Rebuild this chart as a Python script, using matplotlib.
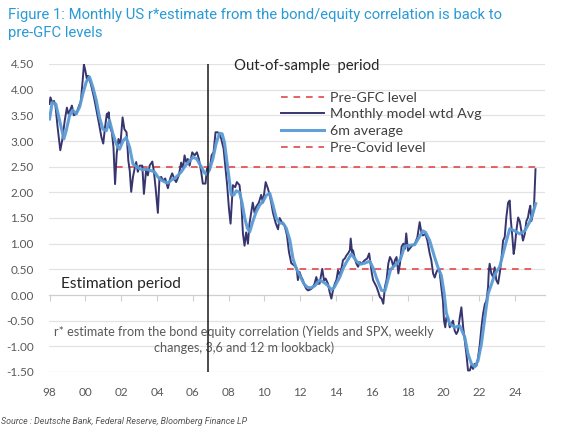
import matplotlib
matplotlib.use("Agg")
import matplotlib.pyplot as plt
import numpy as np

# ---------------- data ----------------
monthly_x = [1998.0, 1998.05, 1998.15, 1998.25, 1998.33, 1998.45, 1998.6, 1998.7, 1998.85, 1998.97,
             1999.05, 1999.15, 1999.25, 1999.35, 1999.5, 1999.58, 1999.75, 1999.85, 1999.92, 2000.0,
             2000.1, 2000.15, 2000.25, 2000.35, 2000.5, 2000.62, 2000.75, 2000.9, 2001.0, 2001.1,
             2001.2, 2001.25, 2001.3, 2001.38, 2001.48, 2001.57, 2001.66, 2001.75, 2001.85, 2001.96,
             2002.08, 2002.18, 2002.3, 2002.4, 2002.48, 2002.56, 2002.66, 2002.75, 2002.84, 2002.93,
             2003.03, 2003.18, 2003.27, 2003.4, 2003.49, 2003.59, 2003.74, 2003.83, 2003.92, 2004.05,
             2004.14, 2004.24, 2004.33, 2004.46, 2004.61, 2004.74, 2004.85, 2004.98, 2005.07, 2005.22,
             2005.35, 2005.45, 2005.54, 2005.63, 2005.72, 2005.82, 2005.97, 2006.1, 2006.23, 2006.34,
             2006.47, 2006.56, 2006.71, 2006.79, 2006.94, 2007.05, 2007.16, 2007.27, 2007.4, 2007.49,
             2007.59, 2007.72, 2007.83, 2007.92, 2008.02, 2008.11, 2008.18, 2008.24, 2008.37, 2008.46,
             2008.61, 2008.71, 2008.8, 2008.89, 2008.98, 2009.08, 2009.17, 2009.35, 2009.45, 2009.54,
             2009.69, 2009.82, 2009.92, 2010.07, 2010.2, 2010.29, 2010.38, 2010.48, 2010.63, 2010.76,
             2010.85, 2011.0, 2011.13, 2011.26, 2011.37, 2011.5, 2011.65, 2011.8, 2011.87, 2011.96,
             2012.06, 2012.15, 2012.24, 2012.34, 2012.43, 2012.52, 2012.62, 2012.71, 2012.8, 2012.9,
             2012.99, 2013.08, 2013.23, 2013.33, 2013.42, 2013.55, 2013.64, 2013.74, 2013.83, 2013.93,
             2014.02, 2014.11, 2014.21, 2014.3, 2014.39, 2014.49, 2014.58, 2014.67, 2014.77, 2014.82,
             2014.9, 2014.95, 2015.05, 2015.14, 2015.23, 2015.33, 2015.42, 2015.61, 2015.74, 2015.85,
             2015.93, 2016.0, 2016.07, 2016.17, 2016.26, 2016.36, 2016.45, 2016.54, 2016.64, 2016.73,
             2016.82, 2016.92, 2017.01, 2017.1, 2017.2, 2017.29, 2017.38, 2017.48, 2017.57, 2017.66,
             2017.76, 2017.85, 2017.92, 2018.02, 2018.11, 2018.24, 2018.39, 2018.54, 2018.67, 2018.76,
             2018.85, 2018.99, 2019.1, 2019.23, 2019.32, 2019.42, 2019.51, 2019.6, 2019.69, 2019.78,
             2019.88, 2019.97, 2020.03, 2020.1, 2020.16, 2020.25, 2020.35, 2020.44, 2020.53, 2020.63,
             2020.72, 2020.81, 2020.91, 2021.0, 2021.1, 2021.19, 2021.28, 2021.37, 2021.47, 2021.56,
             2021.65, 2021.75, 2021.84, 2021.93, 2022.03, 2022.12, 2022.21, 2022.31, 2022.4, 2022.49,
             2022.53, 2022.58, 2022.67, 2022.77, 2022.86, 2022.95, 2023.05, 2023.14, 2023.23, 2023.33,
             2023.42, 2023.51, 2023.61, 2023.7, 2023.75, 2023.85, 2023.92, 2023.98, 2024.07, 2024.17,
             2024.26, 2024.35, 2024.44, 2024.54, 2024.63, 2024.72, 2024.78, 2024.85, 2024.91, 2024.99,
             2025.05, 2025.14]
monthly_val = [3.72, 3.85, 3.75, 3.78, 3.69, 3.27, 2.82, 3.0, 3.4, 3.65,
               3.53, 3.6, 3.69, 3.5, 3.53, 3.62, 3.78, 4.18, 4.49, 4.37,
               4.18, 4.27, 4.18, 4.05, 3.82, 3.6, 3.36, 3.07, 2.95, 3.27,
               3.53, 3.46, 3.56, 3.27, 3.17, 2.88, 2.16, 2.75, 3.04, 2.94,
               3.46, 3.23, 3.17, 2.62, 2.42, 2.01, 2.3, 2.46, 2.59, 2.4,
               2.52, 2.52, 1.97, 2.46, 2.33, 2.52, 2.6, 2.4, 2.1, 1.6,
               2.28, 2.3, 2.23, 2.27, 2.08, 2.27, 2.37, 2.25, 2.2, 2.33,
               2.58, 2.46, 2.72, 2.59, 2.65, 2.52, 2.78, 2.72, 2.78, 2.65,
               2.4, 2.17, 2.17, 2.46, 2.43, 2.72, 2.78, 3.17, 3.17, 3.13,
               3.04, 2.85, 2.46, 2.14, 1.68, 1.39, 1.8, 2.14, 2.1, 2.2,
               2.14, 1.8, 1.2, 0.96, 1.22, 1.0, 1.4, 1.8, 1.6, 1.72,
               1.8, 1.95, 1.8, 2.2, 2.07, 1.95, 1.8, 1.6, 1.4, 1.28,
               1.5, 1.4, 1.35, 1.16, 0.84, 0.62, 0.58, 0.52, 0.29, 0.45,
               0.35, 0.29, 0.19, 0.12, 0.09, 0.1, 0.12, 0.15, 0.22, 0.35,
               0.22, 0.22, 0.51, 0.28, 0.32, 0.22, 0.06, -0.07, 0.09, 0.22,
               0.29, 0.48, 0.38, 0.51, 0.68, 0.71, 0.77, 0.81, 0.87, 1.1,
               0.81, 0.87, 0.71, 0.61, 0.55, 0.64, 0.61, 0.68, 0.71, 0.81,
               0.61, 0.42, 0.29, 0.22, 0.16, 0.06, -0.04, -0.07, -0.17, 0.16,
               0.29, 0.61, 0.74, 0.68, 0.55, 0.68, 0.74, 0.42, 0.61, 0.94,
               1.0, 0.9, 1.2, 0.86, 0.9, 0.96, 0.99, 1.12, 1.42, 1.23,
               1.16, 1.19, 1.06, 0.81, 0.68, 0.42, 0.34, 0.44, 0.5, 0.47,
               0.15, -0.11, -0.5, -0.63, -0.44, -0.44, -0.63, -0.57, -0.5, -0.7,
               -0.76, -0.7, -0.44, -0.24, -0.63, -0.89, -1.15, -1.47, -1.47, -1.37,
               -1.44, -1.34, -1.38, -1.22, -0.96, -0.63, -0.37, -0.18, -0.11, 0.15,
               0.46, 0.61, 0.42, 0.35, 0.54, 0.29, 0.22, 0.42, 0.68, 1.06,
               1.13, 1.51, 1.8, 1.84, 1.51, 1.12, 0.8, 0.93, 1.25, 1.51,
               1.44, 1.25, 1.06, 1.19, 1.44, 1.51, 1.64, 1.74, 1.44, 1.57,
               1.67, 2.45]

avg6m_x = [1998.0, 1998.15, 1998.35, 1998.65, 1998.8, 1998.93, 1999.12, 1999.3, 1999.49, 1999.68,
           1999.86, 2000.05, 2000.23, 2000.42, 2000.61, 2000.79, 2000.98, 2001.17, 2001.35, 2001.54,
           2001.73, 2001.91, 2002.1, 2002.28, 2002.47, 2002.66, 2002.85, 2003.03, 2003.2, 2003.4,
           2003.6, 2003.86, 2004.05, 2004.24, 2004.45, 2004.61, 2004.8, 2004.98, 2005.17, 2005.36,
           2005.55, 2005.73, 2006.0, 2006.2, 2006.47, 2006.65, 2006.8, 2006.94, 2007.12, 2007.3,
           2007.49, 2007.64, 2007.77, 2007.96, 2008.15, 2008.3, 2008.43, 2008.61, 2008.75, 2008.9,
           2009.05, 2009.18, 2009.35, 2009.54, 2009.73, 2009.92, 2010.1, 2010.3, 2010.48, 2010.66,
           2010.86, 2011.04, 2011.22, 2011.42, 2011.6, 2011.8, 2011.98, 2012.2, 2012.4, 2012.6,
           2012.82, 2013.08, 2013.3, 2013.5, 2013.75, 2013.9, 2014.21, 2014.4, 2014.58, 2014.86,
           2015.14, 2015.35, 2015.6, 2015.89, 2016.1, 2016.26, 2016.54, 2016.73, 2016.9, 2017.05,
           2017.38, 2017.6, 2017.83, 2018.13, 2018.39, 2018.6, 2018.85, 2019.0, 2019.23, 2019.51,
           2019.69, 2019.88, 2020.03, 2020.16, 2020.35, 2020.63, 2020.91, 2021.19, 2021.37, 2021.56,
           2021.75, 2021.93, 2022.12, 2022.31, 2022.49, 2022.68, 2022.86, 2023.14, 2023.42, 2023.7,
           2023.98, 2024.26, 2024.54, 2024.81, 2025.0, 2025.15]
avg6m_val = [3.43, 3.75, 3.72, 3.27, 3.04, 3.2, 3.5, 3.6, 3.53, 3.66,
             3.92, 4.15, 4.25, 4.05, 3.79, 3.46, 3.23, 3.2, 3.4, 3.14,
             2.94, 2.84, 3.0, 3.07, 2.88, 2.55, 2.5, 2.46, 2.44, 2.45,
             2.43, 2.4, 2.3, 2.24, 2.2, 2.18, 2.24, 2.27, 2.33, 2.4,
             2.5, 2.58, 2.68, 2.66, 2.5, 2.38, 2.35, 2.45, 2.65, 2.95,
             3.15, 3.14, 2.97, 2.45, 1.95, 1.95, 2.03, 2.0, 1.8, 1.5,
             1.3, 1.23, 1.43, 1.62, 1.75, 1.82, 1.94, 1.98, 1.75, 1.5,
             1.4, 1.4, 1.3, 1.07, 0.7, 0.5, 0.38, 0.22, 0.15, 0.14,
             0.18, 0.29, 0.25, 0.2, 0.1, 0.15, 0.35, 0.52, 0.64, 0.8,
             0.66, 0.6, 0.62, 0.66, 0.5, 0.33, 0.09, 0.08, 0.3, 0.5,
             0.61, 0.7, 0.95, 0.97, 0.98, 1.1, 1.25, 1.22, 1.06, 0.73,
             0.54, 0.38, 0.05, -0.35, -0.56, -0.63, -0.6, -0.82, -1.15, -1.34,
             -1.4, -1.28, -0.95, -0.44, 0.02, 0.21, 0.4, 0.55, 0.93, 1.29,
             1.25, 1.19, 1.25, 1.42, 1.6, 1.78]

pre_gfc_x = [2001.7, 2025.2]
pre_gfc_level = 2.5
pre_covid_x = [2011.25, 2025.05]
pre_covid_level = 0.5
sample_split = 2006.85

year_ticks = list(range(1998, 2026, 2))
year_labels = ["98", "00", "02", "04", "06", "08", "10", "12", "14", "16", "18", "20", "22", "24"]
y_ticks = [4.5, 4.0, 3.5, 3.0, 2.5, 2.0, 1.5, 1.0, 0.5, 0.0, -0.5, -1.0, -1.5]

# ---------------- style ----------------
FONT = ["Lato", "DejaVu Sans"]
plt.rcParams["font.family"] = FONT
TICK_C = "#595959"
DARK = "#36356f"
LIGHT = "#5b9bd5"
RED = "#e2484a"

fig = plt.figure(figsize=(5.66, 4.29), dpi=100)
ax = fig.add_axes([49 / 566, 1 - 372 / 429, (545 - 49) / 566, (372 - 64) / 429])

ax.set_xlim(1997.97, 2025.67)
ax.set_ylim(-1.5, 4.5)

for v in y_ticks:
    if v != 0:
        ax.axhline(v, color="#e3e3e3", lw=0.9, zorder=0)

for s in ["top", "right", "left"]:
    ax.spines[s].set_visible(False)
ax.spines["bottom"].set_position(("data", 0))
ax.spines["bottom"].set_color("#cfcfcf")
ax.spines["bottom"].set_linewidth(0.9)

ax.set_xticks(year_ticks)
ax.tick_params(axis="x", direction="out", length=4, color="#cfcfcf", labelbottom=False)
ax.set_yticks(y_ticks)
ax.set_yticklabels([f"{v:.2f}" for v in y_ticks])
ax.tick_params(axis="y", length=0, pad=11, labelsize=8.5, labelcolor=TICK_C)

sec = ax.secondary_xaxis(0.0)
sec.set_xticks(year_ticks)
sec.set_xticklabels(year_labels)
sec.tick_params(length=0, pad=11, labelsize=8.5, labelcolor=TICK_C)
sec.spines["bottom"].set_visible(False)

# lines
ax.plot(pre_gfc_x, [pre_gfc_level] * len(pre_gfc_x), color=RED, lw=1.2,
        dashes=(4, 3.5), label="Pre-GFC level", zorder=2)
ax.plot(monthly_x, monthly_val, color=DARK, lw=1.4, label="Monthly model wtd Avg", zorder=3)
ax.plot(avg6m_x, avg6m_val, color=LIGHT, lw=2.2, label="6m average", zorder=4, alpha=0.95)
ax.plot(pre_covid_x, [pre_covid_level] * len(pre_covid_x), color=RED, lw=1.2,
        dashes=(4, 3.5), label="Pre-Covid level", zorder=2)
ax.axvline(sample_split, color="#1a1a1a", lw=1.1, zorder=5)

leg = ax.legend(loc="upper left", bbox_to_anchor=(0.468, 0.91), frameon=False,
                fontsize=10.3, handlelength=3.0, handletextpad=0.45, labelspacing=0.33,
                borderaxespad=0, borderpad=0)
for t in leg.get_texts():
    t.set_color("#404040")

ax.text(0.372, 0.995, "Out-of-sample  period", transform=ax.transAxes, fontsize=10.7,
        color="#262626", va="center", ha="left")
ax.text(0.025, 0.285, "Estimation period", transform=ax.transAxes, fontsize=11.2,
        color="#262626", va="center", ha="left")
ax.text(0.393, 0.105, "r* estimate from the bond equity correlation (Yields and SPX, weekly\nchanges, 3,6 and 12 m lookback)",
        transform=ax.transAxes, fontsize=9.1, color=TICK_C, va="center", ha="center",
        linespacing=1.3, zorder=1)

fig.text(8 / 566, 1 - 19 / 429, "Figure 1: Monthly US r*estimate from the bond/equity correlation is back to",
         fontsize=10.7, color="#2a9ad6", family=["Roboto", "DejaVu Sans"], va="baseline", ha="left")
fig.text(8 / 566, 1 - 37 / 429, "pre-GFC levels",
         fontsize=10.7, color="#2a9ad6", family=["Roboto", "DejaVu Sans"], va="baseline", ha="left")
fig.text(0.002, 1 - 421 / 429, "Source : Deutsche Bank, Federal Reserve, Bloomberg Finance LP",
         fontsize=6.4, style="italic", color="#555555", va="center", ha="left",
         family=["Roboto", "DejaVu Sans"])

fig.savefig("out.png", dpi=100)
